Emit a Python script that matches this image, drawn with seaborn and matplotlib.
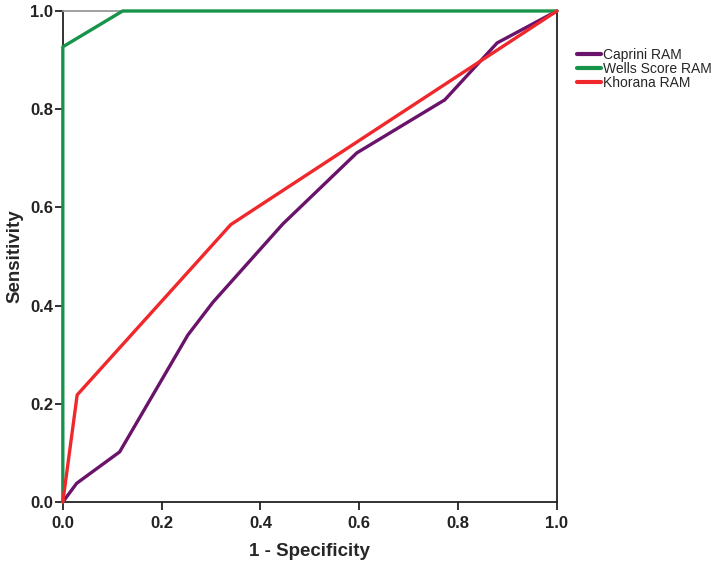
import pandas as pd
import numpy as np
import seaborn as sns
import matplotlib.pyplot as plt

# ROC points (1 - specificity, sensitivity)
caprini_fpr = [0.0, 0.028, 0.115, 0.253, 0.304, 0.445, 0.595, 0.773, 0.879, 1.0]
caprini_tpr = [0.0, 0.038, 0.102, 0.34, 0.407, 0.566, 0.711, 0.819, 0.935, 1.0]
wells_fpr = [0.0, 0.0, 0.121, 1.0]
wells_tpr = [0.0, 0.927, 1.0, 1.0]
khorana_fpr = [0.0, 0.029, 0.34, 1.0]
khorana_tpr = [0.0, 0.218, 0.565, 1.0]

names = ["Caprini RAM", "Wells Score RAM", "Khorana RAM"]
colors = ["#6a136a", "#17944a", "#f0282c"]

# Long-form table
frames = []
for name, fpr, tpr in zip(names, [caprini_fpr, wells_fpr, khorana_fpr],
                          [caprini_tpr, wells_tpr, khorana_tpr]):
    d = pd.DataFrame({"fpr": fpr, "tpr": tpr})
    d["model"] = name
    frames.append(d)
df = pd.concat(frames, ignore_index=True)

sns.set_style("white")
plt.rcParams["font.family"] = ["Liberation Sans", "DejaVu Sans"]

fig = plt.figure(figsize=(7.14, 5.64), dpi=100)
ax = fig.add_axes([0.088, 0.110, 0.692, 0.8705])

sns.lineplot(data=df, x="fpr", y="tpr", hue="model", hue_order=names,
             palette=colors, sort=False, estimator=None, units="model",
             linewidth=2.4, ax=ax)
# curves sit on top of the frame like in the original
for line in ax.lines:
    line.set_zorder(3)
    line.set_clip_on(False)

ax.set_xlim(0, 1)
ax.set_ylim(0, 1)
ticks = [0.0, 0.2, 0.4, 0.6, 0.8, 1.0]
ax.set_xticks(ticks)
ax.set_yticks(ticks)
ax.set_xticklabels([f"{t:.1f}" for t in ticks], fontsize=12, fontweight="bold", color="#222222")
ax.set_yticklabels([f"{t:.1f}" for t in ticks], fontsize=12, fontweight="bold", color="#222222")
ax.tick_params(axis="both", direction="out", length=6, width=1.3, color="#222222",
               bottom=True, left=True)
ax.tick_params(axis="x", pad=4)
ax.tick_params(axis="y", pad=1)

ax.set_xlabel("1 - Specificity", fontsize=13.5, fontweight="bold", labelpad=9)
ax.set_ylabel("Sensitivity", fontsize=13.5, fontweight="bold", labelpad=5)

for side in ["left", "bottom", "right"]:
    ax.spines[side].set_color("#222222")
    ax.spines[side].set_linewidth(1.3)
ax.spines["top"].set_color("#999999")
ax.spines["top"].set_linewidth(1.3)

leg = ax.legend(loc="upper left", bbox_to_anchor=(1.04, 0.925), frameon=False,
                fontsize=10, handlelength=1.75, handletextpad=0.15,
                labelspacing=0.0, borderaxespad=0, borderpad=0)
for line in leg.get_lines():
    line.set_linewidth(3)

fig.savefig("out.png", dpi=100)
